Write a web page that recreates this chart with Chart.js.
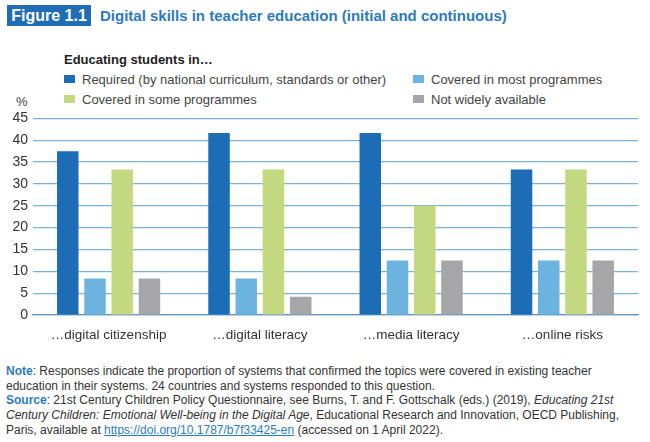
<!DOCTYPE html>
<html>
<head>
    <title>digital-skills-teacher-education</title>
    <meta charset="utf-8">
    <script src="https://cdn.jsdelivr.net/npm/chart.js"></script>
    <style>
        body { margin: 0; width: 650px; height: 442px; background: #fff; position: relative; overflow: hidden;
               font-family: "Liberation Sans Narrow", "Liberation Sans", Arial, sans-serif; color: #333; }
        .abs { position: absolute; white-space: nowrap; }
        #figbox { left: 7px; top: 5px; width: 84px; height: 21px; background: #1f6db5; color: #fff;
                  font-weight: bold; font-size: 16px; line-height: 21px; text-align: center; }
        #title { left: 100px; top: 5px; line-height: 21px; font-size: 15px; font-weight: bold; color: #2b7bbf; }
        #legtitle { left: 64px; top: 52px; font-size: 13px; font-weight: bold; color: #222; }
        .leg { font-size: 13px; color: #444; line-height: 16px; }
        .leg span { display: inline-block; width: 11px; height: 8px; margin-right: 7px; vertical-align: 1px; }
        #pct { left: 16px; top: 94px; font-size: 13px; color: #444; }
        #notes { left: 6px; top: 364px; font-size: 12px; line-height: 14.7px; color: #333; }
        #notes b { color: #2b7bbf; }
        #notes a { color: #2b7bbf; }
        #wrap { position: absolute; left: 0; top: 105px; width: 650px; height: 240px; }
    </style>
</head>
<body>
    <div class="abs" id="figbox">Figure 1.1</div>
    <div class="abs" id="title">Digital skills in teacher education (initial and continuous)</div>
    <div class="abs" id="legtitle">Educating students in…</div>
    <div id="legend"></div>
    <div class="abs" id="pct">%</div>
    <div id="wrap"><canvas id="chart"></canvas></div>
    <div class="abs" id="notes">
        <b>Note</b>: Responses indicate the proportion of systems that confirmed the topics were covered in existing teacher<br>
        education in their systems. 24 countries and systems responded to this question.<br>
        <b>Source</b>: 21st Century Children Policy Questionnaire, see Burns, T. and F. Gottschalk (eds.) (2019), <i>Educating 21st</i><br>
        <i>Century Children: Emotional Well-being in the Digital Age</i>, Educational Research and Innovation, OECD Publishing,<br>
        Paris, available at <a href="#">https://doi.org/10.1787/b7f33425-en</a> (accessed on 1 April 2022).
    </div>

    <script>
        const categories = ['…digital citizenship', '…digital literacy', '…media literacy', '…online risks'];
        const seriesNames = ['Required (by national curriculum, standards or other)', 'Covered in most programmes',
            'Covered in some programmes', 'Not widely available'];
        const required = [37.5, 41.67, 41.67, 33.33];
        const coveredMost = [8.33, 8.33, 12.5, 12.5];
        const coveredSome = [33.33, 33.33, 25, 33.33];
        const notAvailable = [8.33, 4.17, 12.5, 12.5];
        const yTicks = [0, 5, 10, 15, 20, 25, 30, 35, 40, 45];

        const colors = ['#1d6db6', '#6db3e0', '#c4d97f', '#a6a6a9'];
        const seriesValues = [required, coveredMost, coveredSome, notAvailable];

        // legend in two columns, same order as the reference
        const legendPos = [[64, 72], [413, 72], [64, 92], [413, 92]];
        const legend = document.getElementById('legend');
        seriesNames.forEach((name, i) => {
            const d = document.createElement('div');
            d.className = 'abs leg';
            d.style.left = legendPos[i][0] + 'px';
            d.style.top = legendPos[i][1] + 'px';
            d.innerHTML = `<span style="background:${colors[i]}"></span>${name}`;
            legend.appendChild(d);
        });

        const datasets = seriesValues.map((vals, i) => ({
            label: seriesNames[i],
            data: vals,
            backgroundColor: colors[i],
            borderWidth: 0,
            categoryPercentage: 0.72,
            barPercentage: 0.79
        }));

        new Chart(document.getElementById('chart'), {
            type: 'bar',
            data: { labels: categories, datasets: datasets },
            options: {
                responsive: true,
                maintainAspectRatio: false,
                animation: false,
                layout: { padding: { top: 10, right: 12, left: 0, bottom: 0 } },
                plugins: { legend: { display: false }, tooltip: { enabled: false } },
                scales: {
                    x: {
                        grid: { display: false },
                        border: { display: true, color: '#5f95c0', width: 1.2 },
                        ticks: { color: '#333', font: { family: "'Liberation Sans Narrow', 'Liberation Sans', sans-serif", size: 13.5 }, padding: 4 },
                        afterFit: axis => { axis.height = 30; }
                    },
                    y: {
                        min: 0,
                        max: 45,
                        afterBuildTicks: axis => { axis.ticks = yTicks.map(v => ({ value: v })); },
                        grid: { color: '#7eb1d6', lineWidth: 1.2, drawTicks: false },
                        border: { display: false },
                        ticks: { color: '#333', padding: 5, font: { family: "'Liberation Sans Narrow', 'Liberation Sans', sans-serif", size: 14 } },
                        afterFit: axis => { axis.width = 33; }
                    }
                }
            }
        });
    </script>
</body>
</html>
